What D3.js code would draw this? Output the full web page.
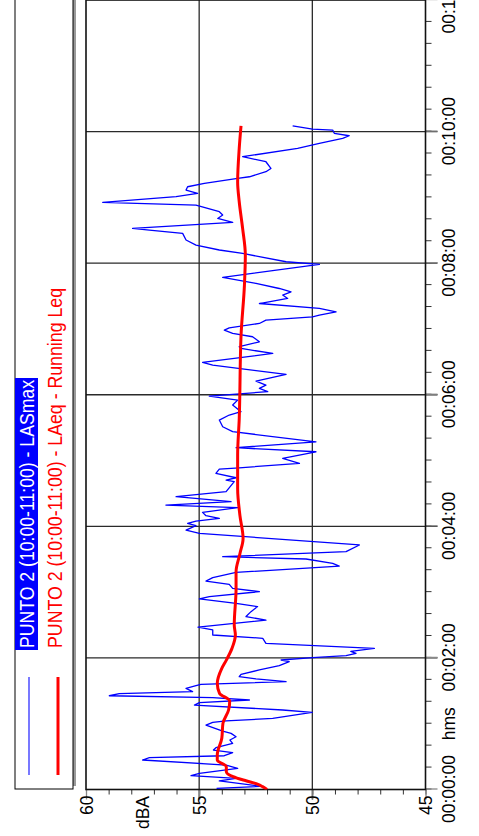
<!DOCTYPE html>
<html>
<head>
<meta charset="utf-8">
<script src="https://cdn.jsdelivr.net/npm/d3@7/dist/d3.min.js"></script>
<style>
  html, body { margin: 0; padding: 0; background: #fff; }
  svg { display: block; }
  text { font-family: "Liberation Sans", Arial, sans-serif; }
</style>
</head>
<body>
<svg id="chart" width="479" height="836"></svg>
<script>
// ---------------- DATA ----------------
const seriesNames = ["PUNTO 2 (10:00-11:00) - LASmax", "PUNTO 2 (10:00-11:00) - LAeq - Running Leq"];
const xTickValues = [0, 120, 240, 360, 480, 600, 720];           // seconds
const yTickValues = [45, 50, 55, 60];                             // dBA
const xAxisUnit = "hms";
const yAxisUnit = "dBA";

const lasmaxTime = [1.1, 2.9, 7.8, 10.2, 12.6, 14.7, 19.3, 22.3, 26.9, 29.0, 30.8, 33.6, 36.0, 38.1, 42.1, 45.1, 48.1, 51.2, 53.3, 58.8, 61.2, 62.5, 64.9, 70.3, 72.5, 77.0, 79.2, 81.6, 83.7, 85.5, 87.4, 89.2, 92.2, 94.7, 95.9, 98.3, 100.8, 102.9, 105.0, 109.0, 112.9, 116.6, 118.1, 120.2, 122.0, 124.2, 126.0, 128.7, 133.3, 137.9, 140.9, 145.5, 148.0,
  154.5, 157.7, 162.2, 166.8, 169.8, 173.8, 175.9, 180.4, 183.4, 187.1, 190.1, 193.2, 198.0, 203.8, 206.2, 210.2, 212.3, 216.9, 223.0, 233.6, 236.6, 240.6, 242.7, 244.8, 247.3, 249.7, 252.7, 257.0, 259.4, 262.5, 267.0, 271.6, 280.7, 282.2, 284.3, 288.3, 292.2, 293.4, 297.4,
  302.0, 308.0, 311.7, 317.1, 326.3, 330.8, 336.9, 341.5, 344.5, 350.6, 355.1, 358.8, 362.8, 365.8, 368.8, 372.5, 378.6, 387.0, 389.5, 397.7, 402.2, 403.8, 408.3, 412.9, 415.9, 418.9, 421.0, 425.0, 428.0, 431.1, 432.6, 435.6, 438.7, 443.2, 447.8, 450.9, 453.9, 456.9,
  461.5, 467.0, 478.9, 481.3, 488.9, 492.0, 496.5, 501.1, 507.2, 510.2, 511.7, 517.2, 520.8, 523.9, 526.9, 533.0, 535.4, 540.6, 543.6, 546.7, 549.7, 552.7, 557.3, 558.8, 563.4, 566.4, 572.5, 577.1, 584.7, 589.2, 593.8, 596.2, 598.4, 601.4, 602.3, 605.3];
const lasmaxValues = [54.23, 52.27, 54.11, 53.37, 55.36, 54.99, 53.30, 53.81, 57.50, 57.20, 53.89, 53.52, 54.37, 54.26, 53.52, 53.64, 53.37, 53.59, 53.96, 54.70, 54.40, 53.81, 51.75, 50.01, 51.31, 55.21, 54.99, 52.78, 54.40, 58.97, 58.53, 55.29, 55.58, 55.14, 54.92, 51.16, 52.49, 53.23, 53.15, 52.34, 51.46, 51.02, 51.38, 49.99, 48.51, 48.07, 48.30, 47.26, 52.05, 52.19, 54.40, 54.40, 55.05,
  52.05, 52.93, 52.71, 52.42, 53.37, 54.99, 54.55, 52.34, 53.52, 53.67, 54.70, 54.40, 53.37, 48.81, 49.10, 50.28, 53.96, 48.51, 47.92, 54.99, 55.58, 55.14, 55.51, 55.14, 54.11, 54.70, 54.85, 53.30, 56.47, 53.59, 56.02, 53.81, 53.45, 53.81, 53.37, 54.26, 54.11, 53.23, 50.57,
  51.31, 49.84, 53.37, 49.84, 53.52, 53.96, 54.11, 53.67, 53.15, 53.52, 53.30, 54.55, 51.97, 52.34, 52.05, 52.49, 51.16, 54.40, 54.85, 51.75, 53.15, 53.23, 52.34, 52.64, 53.52, 53.89, 53.67, 52.34, 52.05, 49.99, 49.69, 48.95, 49.69, 52.34, 51.09, 51.31, 50.94, 51.46,
  52.49, 53.96, 49.69, 51.16, 53.08, 54.11, 55.14, 55.58, 55.73, 57.20, 57.94, 53.52, 54.18, 53.96, 54.11, 55.14, 59.26, 56.02, 55.07, 55.58, 55.51, 54.77, 53.30, 52.78, 52.05, 51.83, 52.05, 53.08, 50.65, 49.69, 48.66, 48.37, 49.03, 49.10, 49.99, 50.87];

const leqTime = [0, 2.6, 4.7, 7.7, 11.7, 16.3, 20.8, 26.9, 31.5, 46.7, 60.3, 72.5, 80.7, 87.7, 96.8, 110.5, 118, 128.7, 140.9, 150, 183, 198.6, 215, 229, 250, 274.6, 305, 338, 414, 460, 487.4, 511.7, 536, 554, 584.7, 605.3];
const leqValues = [52.0, 52.2, 52.4, 52.9, 53.5, 53.8, 53.8, 54.2, 54.2, 54.0, 53.95, 53.7, 53.65, 54.1, 54.2, 54.0, 53.8, 53.55, 53.4, 53.45, 53.37, 53.37, 53.2, 53.06, 53.2, 53.3, 53.3, 53.23, 53.15, 53.0, 52.96, 53.08, 53.23, 53.3, 53.23, 53.15];

// ---------------- LAYOUT (unrotated frame, rotated -90deg onto page) ----------------
const plot = { left: 46.5, right: 836, top: 86, bottom: 425.5 };

const svg = d3.select("#chart");
const g = svg.append("g").attr("transform", `translate(0,${836}) rotate(-90)`);

const x = d3.scaleLinear().domain([0, 720]).range([plot.left, plot.right]);
const y = d3.scaleLinear().domain([45, 60]).range([plot.bottom, plot.top]);

const pad = n => String(n).padStart(2, "0");
const fmtTime = s => `${pad(Math.floor(s / 3600))}:${pad(Math.floor(s / 60) % 60)}:${pad(s % 60)}`;

// clip
svg.append("defs").append("clipPath").attr("id", "plotclip")
  .append("rect").attr("x", plot.left).attr("y", plot.top)
  .attr("width", plot.right - plot.left).attr("height", plot.bottom - plot.top);

// legend
const leg = g.append("g");
leg.append("rect").attr("x", 50).attr("y", 18).attr("width", 800).attr("height", 58).attr("fill", "#9a9a9a");
leg.append("rect").attr("x", 47).attr("y", 15).attr("width", 800).attr("height", 58)
  .attr("fill", "#fff").attr("stroke", "#000").attr("stroke-width", 1);
leg.append("line").attr("x1", 61).attr("x2", 159).attr("y1", 29).attr("y2", 29)
  .attr("stroke", "#3030ff").attr("stroke-width", 1.3);
leg.append("line").attr("x1", 61).attr("x2", 159).attr("y1", 58).attr("y2", 58)
  .attr("stroke", "#ff0000").attr("stroke-width", 3);
leg.append("rect").attr("x", 186).attr("y", 15).attr("width", 272).attr("height", 23).attr("fill", "#0000ff");
leg.append("text").attr("x", 188).attr("y", 34).attr("fill", "#fff").attr("font-size", 20)
  .attr("textLength", 268).attr("lengthAdjust", "spacingAndGlyphs").text(seriesNames[0]);
leg.append("text").attr("x", 188).attr("y", 62).attr("fill", "#ff0000").attr("font-size", 20)
  .attr("textLength", 360).attr("lengthAdjust", "spacingAndGlyphs").text(seriesNames[1]);

// grid
const grid = g.append("g").attr("stroke", "#2a2a2a").attr("stroke-width", 1.3);
xTickValues.filter(v => v > 0 && v < 720).forEach(v => {
  grid.append("line").attr("x1", x(v)).attr("x2", x(v)).attr("y1", plot.top).attr("y2", plot.bottom + 12);
});
yTickValues.filter(v => v > 45 && v < 60).forEach(v => {
  grid.append("line").attr("x1", plot.left - 10).attr("x2", plot.right).attr("y1", y(v)).attr("y2", y(v));
});

// axes
const xAxis = d3.axisBottom(x).tickValues(d3.range(0, 721, 20)).tickSize(6).tickFormat("");
g.append("g").attr("transform", `translate(0,${plot.bottom})`).call(xAxis)
  .call(a => a.select(".domain").remove())
  .call(a => a.selectAll("line").attr("stroke", "#333").attr("stroke-width", 1));
const xAxisMajor = d3.axisBottom(x).tickValues(xTickValues).tickSize(12).tickFormat(fmtTime);
g.append("g").attr("transform", `translate(0,${plot.bottom})`).call(xAxisMajor)
  .call(a => a.select(".domain").remove())
  .call(a => a.selectAll("line").attr("stroke", "#888").attr("stroke-width", 1.3))
  .call(a => a.selectAll("text").attr("font-size", 17.5).attr("fill", "#000").attr("dy", 0).attr("y", 29.5)
    .attr("font-family", "'Liberation Sans', Arial, sans-serif"));

const yAxis = d3.axisLeft(y).tickValues(d3.range(45, 61, 1)).tickSize(5).tickFormat("");
g.append("g").attr("transform", `translate(${plot.left},0)`).call(yAxis)
  .call(a => a.select(".domain").remove())
  .call(a => a.selectAll("line").attr("stroke", "#333").attr("stroke-width", 1));
const yAxisMajor = d3.axisLeft(y).tickValues(yTickValues).tickSize(10).tickFormat(d3.format("d"));
g.append("g").attr("transform", `translate(${plot.left},0)`).call(yAxisMajor)
  .call(a => a.select(".domain").remove())
  .call(a => a.selectAll("line").attr("stroke", "#888").attr("stroke-width", 1.3))
  .call(a => a.selectAll("text").attr("font-size", 17.5).attr("fill", "#000").attr("x", -6).attr("dy", "0.36em")
    .attr("font-family", "'Liberation Sans', Arial, sans-serif"));

g.append("text").attr("x", x(60)).attr("y", plot.bottom + 29.5).attr("text-anchor", "middle")
  .attr("font-size", 17.5).text(xAxisUnit);
g.append("text").attr("x", 40).attr("y", y(57.5)).attr("dy", "0.36em").attr("text-anchor", "end")
  .attr("font-size", 17.5).text(yAxisUnit);

// frame
g.append("rect").attr("x", plot.left).attr("y", plot.top)
  .attr("width", plot.right - plot.left).attr("height", plot.bottom - plot.top)
  .attr("fill", "none").attr("stroke", "#111").attr("stroke-width", 1.6);

// series
const plotG = g.append("g").attr("clip-path", "url(#plotclip)");
const blue = lasmaxTime.map((t, i) => [t, lasmaxValues[i]]);
const red = leqTime.map((t, i) => [t, leqValues[i]]);
plotG.append("path").datum(blue)
  .attr("d", d3.line().x(d => x(d[0])).y(d => y(d[1])))
  .attr("fill", "none").attr("stroke", "#0000ff").attr("stroke-width", 1.3).attr("stroke-linejoin", "round");
plotG.append("path").datum(red)
  .attr("d", d3.line().curve(d3.curveMonotoneX).x(d => x(d[0])).y(d => y(d[1])))
  .attr("fill", "none").attr("stroke", "#ff0000").attr("stroke-width", 3).attr("stroke-linejoin", "round");
</script>
</body>
</html>
